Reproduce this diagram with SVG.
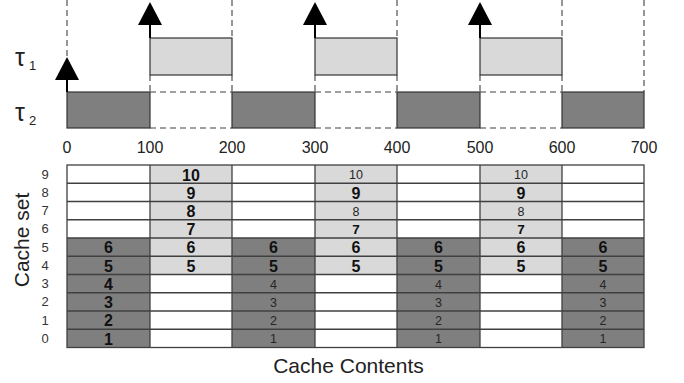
<svg xmlns="http://www.w3.org/2000/svg" width="684" height="383" viewBox="0 0 684 383">
<style>
.dk{fill:#7f7f7f}
.lt{fill:#d9d9d9}
.wh{fill:#ffffff}
.box{stroke:#333;stroke-width:1.2}
.dash{stroke:#404040;stroke-width:1.1;stroke-dasharray:6 4;fill:none}
.grid{stroke:#404040;stroke-width:1.3;fill:none}
.ax{font-family:"Liberation Sans",Arial,sans-serif;font-size:16px;fill:#222;text-anchor:middle}
.rl{font-family:"Liberation Sans",Arial,sans-serif;font-size:13px;fill:#333;text-anchor:middle}
.b{font-family:"Liberation Sans",Arial,sans-serif;font-size:16px;font-weight:bold;fill:#111;text-anchor:middle}
.s{font-family:"Liberation Sans",Arial,sans-serif;font-size:12.5px;fill:#262626;text-anchor:middle}
.sb{font-family:"Liberation Sans",Arial,sans-serif;font-size:13.5px;font-weight:bold;fill:#111;text-anchor:middle}
.lab{font-family:"Liberation Sans",Arial,sans-serif;font-size:21px;fill:#222;text-anchor:middle}
.tau{font-family:"Liberation Sans","DejaVu Sans",sans-serif;fill:#222}
.shaft{stroke:#000;stroke-width:2}
</style>

<g id="guides">
<line class="dash" x1="67" y1="0" x2="67" y2="57"/>
<line class="dash" x1="232" y1="0" x2="232" y2="38"/>
<line class="dash" x1="397" y1="0" x2="397" y2="38"/>
<line class="dash" x1="562" y1="0" x2="562" y2="38"/>
<line class="dash" x1="644" y1="0" x2="644" y2="92"/>
<line class="dash" x1="150" y1="75" x2="150" y2="92"/>
<line class="dash" x1="232" y1="75" x2="232" y2="92"/>
<line class="dash" x1="315" y1="75" x2="315" y2="92"/>
<line class="dash" x1="397" y1="75" x2="397" y2="92"/>
<line class="dash" x1="480" y1="75" x2="480" y2="92"/>
<line class="dash" x1="562" y1="75" x2="562" y2="92"/>
</g>

<g id="tau1">
<text class="tau" x="15" y="66" font-size="25">τ</text>
<text class="tau" x="29" y="70" font-size="13">1</text>
<rect class="lt box" x="150" y="38" width="82" height="37"/>
<rect class="lt box" x="315" y="38" width="82" height="37"/>
<rect class="lt box" x="480" y="38" width="82" height="37"/>
</g>

<g id="tau2">
<text class="tau" x="15" y="121" font-size="25">τ</text>
<text class="tau" x="29" y="125" font-size="13">2</text>
<rect class="dk box" x="67" y="92" width="83" height="36"/>
<rect class="dk box" x="232" y="92" width="83" height="36"/>
<rect class="dk box" x="397" y="92" width="83" height="36"/>
<rect class="dk box" x="562" y="92" width="82" height="36"/>
<line class="dash" x1="150" y1="92" x2="232" y2="92"/>
<line class="dash" x1="150" y1="128" x2="232" y2="128"/>
<line class="dash" x1="315" y1="92" x2="397" y2="92"/>
<line class="dash" x1="315" y1="128" x2="397" y2="128"/>
<line class="dash" x1="480" y1="92" x2="562" y2="92"/>
<line class="dash" x1="480" y1="128" x2="562" y2="128"/>
</g>

<g id="arrows">
<line class="shaft" x1="67" y1="92" x2="67" y2="78"/>
<polygon points="67,57 79,80 55,80" fill="#000"/>
<line class="shaft" x1="150" y1="38" x2="150" y2="23"/>
<polygon points="150,2 162,25 138,25" fill="#000"/>
<line class="shaft" x1="315" y1="38" x2="315" y2="23"/>
<polygon points="315,2 327,25 303,25" fill="#000"/>
<line class="shaft" x1="480" y1="38" x2="480" y2="23"/>
<polygon points="480,2 492,25 468,25" fill="#000"/>
</g>

<g id="axis">
<text class="ax" x="67" y="153">0</text>
<text class="ax" x="150" y="153">100</text>
<text class="ax" x="232" y="153">200</text>
<text class="ax" x="315" y="153">300</text>
<text class="ax" x="397" y="153">400</text>
<text class="ax" x="480" y="153">500</text>
<text class="ax" x="562" y="153">600</text>
<text class="ax" x="644" y="153">700</text>
</g>

<g id="col0">
<rect class="wh" x="67" y="165" width="83" height="73"/>
<rect class="dk" x="67" y="238" width="83" height="109.5"/>
<text class="b" x="108.5" y="253.3">6</text>
<text class="b" x="108.5" y="271.5">5</text>
<text class="b" x="108.5" y="289.8">4</text>
<text class="b" x="108.5" y="308">3</text>
<text class="b" x="108.5" y="326.3">2</text>
<text class="b" x="108.5" y="344.5">1</text>
</g>
<g id="col1">
<rect class="lt" x="150" y="165" width="82" height="109.5"/>
<rect class="wh" x="150" y="274.5" width="82" height="73"/>
<text class="b" x="191" y="180.5">10</text>
<text class="b" x="191" y="198.7">9</text>
<text class="b" x="191" y="217">8</text>
<text class="b" x="191" y="235.2">7</text>
<text class="b" x="191" y="253.3">6</text>
<text class="b" x="191" y="271.5">5</text>
</g>
<g id="col2">
<rect class="wh" x="232" y="165" width="83" height="73"/>
<rect class="dk" x="232" y="238" width="83" height="109.5"/>
<text class="b" x="273.5" y="253.3">6</text>
<text class="b" x="273.5" y="271.5">5</text>
<text class="s" x="273.5" y="288.5">4</text>
<text class="s" x="273.5" y="306.7">3</text>
<text class="s" x="273.5" y="325">2</text>
<text class="s" x="273.5" y="343.2">1</text>
</g>
<g id="col3">
<rect class="lt" x="315" y="165" width="82" height="109.5"/>
<rect class="wh" x="315" y="274.5" width="82" height="73"/>
<text class="s" x="356" y="179">10</text>
<text class="b" x="356" y="198.7">9</text>
<text class="s" x="356" y="215.5">8</text>
<text class="sb" x="356" y="234">7</text>
<text class="b" x="356" y="253.3">6</text>
<text class="b" x="356" y="271.5">5</text>
</g>
<g id="col4">
<rect class="wh" x="397" y="165" width="83" height="73"/>
<rect class="dk" x="397" y="238" width="83" height="109.5"/>
<text class="b" x="438.5" y="253.3">6</text>
<text class="b" x="438.5" y="271.5">5</text>
<text class="s" x="438.5" y="288.5">4</text>
<text class="s" x="438.5" y="306.7">3</text>
<text class="s" x="438.5" y="325">2</text>
<text class="s" x="438.5" y="343.2">1</text>
</g>
<g id="col5">
<rect class="lt" x="480" y="165" width="82" height="109.5"/>
<rect class="wh" x="480" y="274.5" width="82" height="73"/>
<text class="s" x="521" y="179">10</text>
<text class="b" x="521" y="198.7">9</text>
<text class="s" x="521" y="215.5">8</text>
<text class="sb" x="521" y="234">7</text>
<text class="b" x="521" y="253.3">6</text>
<text class="b" x="521" y="271.5">5</text>
</g>
<g id="col6">
<rect class="wh" x="562" y="165" width="82" height="73"/>
<rect class="dk" x="562" y="238" width="82" height="109.5"/>
<text class="b" x="603" y="253.3">6</text>
<text class="b" x="603" y="271.5">5</text>
<text class="s" x="603" y="288.5">4</text>
<text class="s" x="603" y="306.7">3</text>
<text class="s" x="603" y="325">2</text>
<text class="s" x="603" y="343.2">1</text>
</g>

<g id="grid" class="grid">
<rect x="67" y="165" width="577" height="182.5"/>
<line x1="67" y1="183.25" x2="644" y2="183.25"/>
<line x1="67" y1="201.5" x2="644" y2="201.5"/>
<line x1="67" y1="219.75" x2="644" y2="219.75"/>
<line x1="67" y1="238" x2="644" y2="238"/>
<line x1="67" y1="256.25" x2="644" y2="256.25"/>
<line x1="67" y1="274.5" x2="644" y2="274.5"/>
<line x1="67" y1="292.75" x2="644" y2="292.75"/>
<line x1="67" y1="311" x2="644" y2="311"/>
<line x1="67" y1="329.25" x2="644" y2="329.25"/>
<line x1="150" y1="165" x2="150" y2="347.5"/>
<line x1="232" y1="165" x2="232" y2="347.5"/>
<line x1="315" y1="165" x2="315" y2="347.5"/>
<line x1="397" y1="165" x2="397" y2="347.5"/>
<line x1="480" y1="165" x2="480" y2="347.5"/>
<line x1="562" y1="165" x2="562" y2="347.5"/>
</g>

<g id="rowlabels">
<text class="rl" x="45" y="178.5">9</text>
<text class="rl" x="45" y="196.8">8</text>
<text class="rl" x="45" y="215">7</text>
<text class="rl" x="45" y="233.3">6</text>
<text class="rl" x="45" y="251.5">5</text>
<text class="rl" x="45" y="269.8">4</text>
<text class="rl" x="45" y="288">3</text>
<text class="rl" x="45" y="306.3">2</text>
<text class="rl" x="45" y="324.5">1</text>
<text class="rl" x="45" y="342.8">0</text>
</g>

<g id="labels">
<text class="lab" x="0" y="0" transform="translate(29,240) rotate(-90)">Cache set</text>
<text class="lab" x="348.5" y="373">Cache Contents</text>
</g>
</svg>
